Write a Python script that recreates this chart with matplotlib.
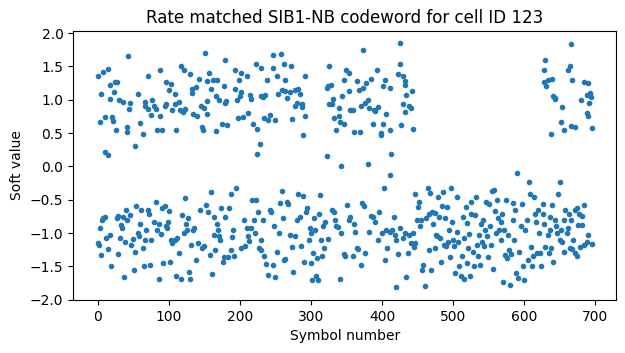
import numpy as np
import matplotlib
matplotlib.use('Agg')
import matplotlib.pyplot as plt

# soft values, positive cluster (symbol index, value)
upper_sym = [0, 3, 5, 7, 10, 10, 14, 15, 17, 17, 20, 22, 23, 24, 25, 27, 30, 36, 41, 41,
             42, 44, 45, 52, 57, 59, 64, 66, 67, 70, 70, 75, 76, 79, 82, 83, 87, 88, 91, 94,
             96, 96, 100, 103, 104, 108, 108, 110, 114, 115, 117, 120, 121, 123, 130, 132, 133, 134, 138, 139,
             142, 145, 147, 148, 150, 151, 153, 154, 154, 157, 159, 162, 166, 166, 168, 171, 175, 177, 179, 179,
             181, 182, 193, 193, 196, 198, 199, 200, 201, 202, 205, 210, 212, 214, 215, 219, 222, 224, 224, 228,
             230, 230, 233, 234, 235, 238, 239, 242, 246, 247, 249, 252, 254, 258, 259, 262, 264, 264, 266, 270,
             272, 274, 278, 278, 281, 282, 284, 287, 287, 289, 292, 292,
             322, 323, 324, 326, 326, 328, 329, 331, 333, 335, 339, 340, 341, 342, 344, 346, 347, 349, 353, 354,
             355, 359, 360, 365, 367, 369, 370, 373, 373, 376, 378, 380, 380, 382, 385, 388, 389, 390, 393, 395,
             398, 399, 401, 402, 404, 406, 411, 411, 413, 423, 425, 425, 427, 429, 430, 432, 433, 433, 434, 438,
             441, 442, 443,
             628, 629, 631, 628, 633, 638, 640, 641, 643, 644, 652, 654, 656, 662, 664, 666, 667, 666, 672, 680,
             684, 688, 689, 690, 690, 692, 693, 694, 695]
upper_val = [1.35, 0.66, 1.09, 1.41, 0.74, 0.22, 1.46, 0.17, 1.22, 1.01, 0.74, 0.68, 1.12, 1.26, 0.54, 1.27, 1.00, 0.96, 0.59, 0.51,
             1.66, 0.86, 0.95, 0.30, 1.09, 0.65, 0.48, 0.90, 0.96, 0.86, 1.35, 0.77, 0.99, 0.91, 0.86, 0.55, 1.45, 0.76, 0.55, 0.91,
             1.27, 0.93, 1.15, 1.24, 0.84, 1.08, 0.94, 0.55, 0.96, 0.84, 1.50, 0.81, 1.44, 0.86, 1.39, 1.16, 1.10, 0.78, 1.19, 0.76,
             1.31, 0.91, 0.59, 0.55, 0.88, 1.70, 0.78, 1.28, 0.98, 1.40, 1.16, 1.30, 1.06, 0.53, 1.30, 0.99, 0.63, 1.20, 1.59, 0.95,
             0.98, 0.62, 1.45, 1.16, 0.99, 0.72, 1.29, 1.06, 1.11, 1.40, 0.74, 1.35, 0.80, 1.07, 1.01, 0.64, 1.54, 0.56, 0.18, 0.33,
             1.48, 1.05, 1.04, 0.72, 1.07, 1.30, 0.69, 0.77, 1.67, 1.48, 0.70, 1.35, 1.09, 1.68, 1.14, 1.54, 1.29, 1.13, 1.02, 1.12,
             1.50, 0.71, 1.14, 0.91, 0.95, 1.16, 1.09, 0.89, 0.93, 0.47, 1.35, 0.75,
             1.18, 0.16, 1.20, 1.50, 0.94, 1.22, 0.94, 1.01, 0.73, 0.55, 0.88, 0.76, 0.66, 0.00, 1.05, 0.63, 1.29, 1.45, 1.13, 1.40,
             0.85, 0.85, 0.52, 1.28, 1.15, 0.52, 0.91, 1.17, 1.75, 0.95, 1.25, 1.00, 0.04, 0.88, 1.31, 0.64, 0.85, 0.83, 1.45, 0.89,
             0.50, 0.47, 0.63, 1.20, 1.29, 0.79, 1.18, 0.55, 0.19, 1.38, 1.85, 1.54, 0.62, 0.93, 1.35, 1.28, 1.22, 0.81, 1.07, 0.90,
             0.87, 1.13, 0.56,
             1.44, 1.60, 1.20, 1.27, 1.29, 0.48, 1.31, 1.05, 1.01, 1.03, 0.67, 0.89, 0.55, 1.45, 1.50, 1.84, 1.30, 0.60, 0.59, 1.00,
             1.27, 0.80, 1.07, 0.76, 1.25, 0.95, 1.10, 1.04, 0.57]

# negative cluster
lower_sym = [0, 1, 3, 5, 6, 8, 10, 12, 14, 17, 19, 27, 28, 29, 31, 32, 34, 35, 37, 38,
             40, 41, 46, 47, 50, 51, 52, 54, 57, 58, 59, 61, 63, 65, 67, 68, 71, 72, 73, 75,
             79, 82, 84, 86, 86, 89, 91, 92, 94, 96, 97, 99, 100, 102, 103, 104, 108, 110, 112, 114,
             117, 118, 121, 123, 124, 126, 128, 127, 130, 131, 134, 136, 138, 141, 144, 147, 149, 152, 155, 158,
             159, 161, 163, 164, 165, 168, 169, 171, 172, 174, 176, 177, 179, 183, 185, 187, 187, 189, 190, 191,
             194, 202, 206, 207, 210, 211, 213, 216, 217, 220, 221, 223, 226, 227, 229, 230, 233, 234, 237, 239,
             242, 244, 246, 248, 250, 252, 255, 257, 259, 260, 262, 264, 266, 268, 271, 273, 275, 278, 280, 282,
             285, 286, 289, 290, 293, 294, 297, 299, 300, 300, 301, 303, 304, 306, 307, 309, 310, 311, 313, 314,
             316, 317, 318, 320, 324, 330, 332, 334, 335, 338, 341, 343, 346, 348, 351, 353, 355, 359, 361, 362,
             365, 366, 370, 372, 374, 376, 382, 385, 387, 390, 395, 396, 400, 403, 404, 405, 407, 411, 411, 414,
             417, 418, 420, 420, 422, 426, 430, 433, 434, 437, 438, 441, 444, 445, 447, 447, 449, 451, 452, 454,
             455, 457, 458, 461, 462, 465, 466, 466, 468, 469, 470, 472, 474, 475, 476, 478, 479, 480, 482, 483,
             485, 486, 487, 489, 490, 492, 493, 494, 496, 497, 498, 500, 502, 503, 505, 506, 507, 509, 511, 513,
             514, 515, 516, 518, 519, 520, 521, 523, 524, 525, 526, 528, 529, 531, 532, 534, 535, 537, 538, 540,
             541, 542, 544, 545, 547, 548, 549, 551, 552, 554, 555, 556, 557, 559, 560, 562, 564, 565, 567, 568,
             569, 571, 572, 573, 575, 576, 578, 579, 580, 582, 584, 585, 586, 587, 589, 590, 592, 593, 596, 597,
             599, 600, 602, 604, 605, 607, 608, 610, 611, 612, 614, 616, 617, 618, 620, 621, 623, 624, 626, 627,
             628, 630, 633, 635, 636, 637, 638, 640, 641, 644, 645, 646, 648, 650, 651, 652, 654, 656, 656, 658,
             661, 662, 663, 665, 666, 668, 669, 671, 672, 674, 675, 676, 677, 679, 681, 682, 684, 685, 688, 690,
             695]
lower_val = [-1.15, -1.18, -0.93, -1.33, -0.81, -0.78, -0.76, -1.08, -1.24, -1.03, -1.50, -0.78, -1.31, -0.74, -1.08, -0.88, -0.92, -0.76, -1.66, -1.14,
             -0.65, -0.80, -0.73, -1.18, -1.09, -1.56, -1.29, -0.60, -1.00, -1.05, -0.87, -0.66, -1.23, -1.50, -1.10, -0.96, -0.65, -0.71, -1.48, -1.10,
             -0.83, -0.53, -0.96, -0.86, -1.69, -1.01, -0.63, -1.45, -0.59, -0.89, -0.92, -0.83, -0.67, -1.43, -1.10, -1.15, -1.10, -1.64, -1.08, -1.30,
             -1.69, -0.73, -1.00, -0.47, -0.86, -0.96, -1.59, -0.78, -1.69, -1.18, -0.95, -0.92, -1.40, -1.15, -0.66, -1.23, -1.19, -0.58, -0.68, -1.33,
             -0.38, -1.61, -1.03, -0.76, -1.25, -0.87, -0.96, -1.04, -1.10, -0.62, -1.43, -1.36, -0.76, -1.36, -0.63, -0.41, -1.25, -1.06, -0.96, -1.35,
             -0.33, -1.23, -0.80, -1.20, -0.93, -1.05, -1.12, -0.93, -0.51, -0.80, -1.00, -0.51, -0.68, -1.23, -1.26, -1.10, -0.80, -1.35, -1.47, -1.63,
             -0.65, -0.68, -1.48, -0.89, -1.66, -1.28, -1.00, -0.55, -0.37, -0.78, -1.41, -1.39, -0.53, -0.56, -1.03, -1.21, -1.58, -1.05, -0.80, -0.41,
             -0.76, -1.20, -0.45, -1.43, -0.68, -0.62, -1.10, -0.93, -1.00, -1.45, -1.70, -1.30, -0.78, -0.96, -1.64, -1.38, -1.70, -0.71, -0.43, -1.10,
             -1.35, -0.90, -1.23, -0.83, -1.09, -0.65, -0.68, -0.80, -0.90, -0.91, -1.69, -1.00, -1.31, -1.34, -0.58, -0.80, -0.76, -1.34, -0.86, -0.98,
             -1.23, -1.24, -1.48, -0.55, -0.60, -1.30, -0.99, -0.75, -0.76, -0.83, -1.10, -0.68, -1.00, -0.33, -1.41, -0.96, -1.23, -0.99, -0.13, -0.96,
             -0.76, -1.03, -1.10, -1.81, -1.31, -0.93, -1.08, -1.00, -1.66, -1.30, -1.03, -1.15, -1.00, -1.21, -1.15, -0.42, -0.80, -0.61, -0.53, -0.90,
             -0.81, -1.55, -1.48, -1.80, -0.78, -0.33, -1.26, -0.71, -0.40, -1.55, -0.68, -0.86, -1.23, -0.70, -1.03, -1.05, -0.46, -0.76, -1.08, -1.43,
             -0.60, -0.38, -1.18, -0.78, -1.20, -0.61, -1.13, -0.96, -1.36, -0.33, -0.83, -1.11, -1.20, -1.60, -0.98, -0.46, -1.14, -1.50, -1.65, -1.35,
             -0.76, -1.69, -1.08, -0.61, -1.45, -0.85, -1.23, -1.01, -1.64, -0.71, -0.53, -1.28, -1.50, -0.73, -0.46, -1.18, -1.34, -1.03, -1.48, -0.87,
             -1.13, -0.81, -1.20, -0.96, -0.53, -1.04, -1.36, -0.56, -0.90, -1.18, -0.37, -1.54, -0.36, -0.67, -1.00, -0.51, -0.78, -0.96, -0.83, -1.10,
             -0.71, -1.73, -0.96, -1.33, -0.51, -1.38, -1.03, -1.25, -1.78, -1.31, -0.55, -0.80, -1.10, -0.66, -1.60, -0.10, -1.68, -1.28, -0.90, -0.57,
             -1.50, -1.70, -0.96, -0.80, -1.40, -0.23, -0.42, -1.21, -1.50, -1.35, -0.46, -0.71, -0.83, -1.30, -0.66, -1.00, -1.30, -1.50, -0.71, -0.57,
             -0.86, -1.21, -1.03, -1.30, -0.76, -0.96, -1.23, -0.58, -1.43, -0.81, -0.90, -1.00, -0.42, -0.23, -1.10, -0.95, -1.13, -1.28, -0.81, -0.66,
             -1.00, -0.93, -0.71, -1.23, -0.81, -1.24, -1.10, -1.30, -0.66, -0.62, -1.34, -0.88, -0.71, -1.21, -0.88, -0.75, -1.18, -0.58, -1.13, -1.03,
             -1.16]

sym = np.array(upper_sym + lower_sym)
soft = np.array(upper_val + lower_val)
order = np.argsort(sym, kind='stable')

fig = plt.figure(figsize=(6.25, 3.53), dpi=100)
ax = fig.add_axes([0.117, 0.150, 0.869, 0.762])

ax.plot(sym[order], soft[order], '.', linestyle='none')

ax.set_ylim(-2.005, 2.03)
ax.set_title('Rate matched SIB1-NB codeword for cell ID 123')
ax.set_xlabel('Symbol number')
ax.set_ylabel('Soft value')

fig.savefig('out.png', dpi=100)
